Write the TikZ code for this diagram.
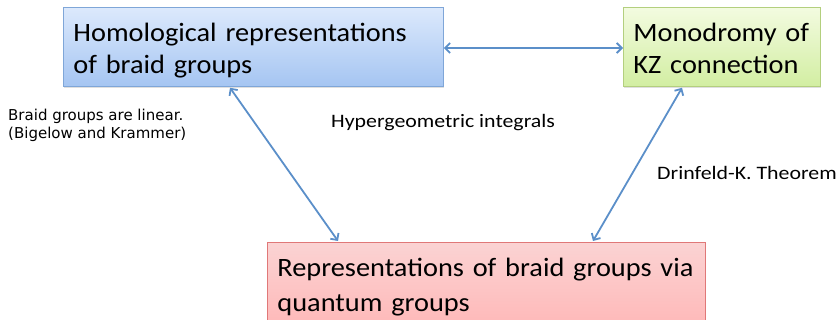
\documentclass[tikz,border=0pt]{standalone}
\usepackage{fontspec}
\setmainfont{Carlito}[FakeStretch=1.07,WordSpace=0.85]
\newfontfamily\labelfont{Carlito}[FakeStretch=1.15]
\newfontfamily\notefont{DejaVu Sans}
\usetikzlibrary{arrows.meta,shadows,calc}
\definecolor{arrowblue}{HTML}{5B8FC9}
\definecolor{bluetop}{HTML}{DCE9FC}
\definecolor{bluebot}{HTML}{A5C5F2}
\definecolor{blueline}{HTML}{7FA6D8}
\definecolor{greentop}{HTML}{F3FBE0}
\definecolor{greenbot}{HTML}{D2EEA2}
\definecolor{greenline}{HTML}{B3CF7E}
\definecolor{redtop}{HTML}{FBD3D3}
\definecolor{redbot}{HTML}{FFB5B5}
\definecolor{redline}{HTML}{E07878}
\tikzset{
  box/.style={rectangle, draw, line width=0.8pt, inner xsep=10pt, inner ysep=0pt,
    align=left, anchor=north west, font=\fontsize{26.5}{32}\selectfont,
    text height=34.5pt, text depth=44.5pt,
    drop shadow={opacity=0.25, shadow xshift=1pt, shadow yshift=-2pt}},
  link/.style={draw=arrowblue, line width=1.8pt, {Straight Barb[length=5pt,width=10pt]}-{Straight Barb[length=5pt,width=10pt]}},
  lbl/.style={anchor=base west, inner sep=0pt, font=\labelfont\fontsize{19}{22}\selectfont}
}
\begin{document}
\begin{tikzpicture}[x=1pt,y=-1pt]
\useasboundingbox (0,0) rectangle (837,320);
\clip (0,0) rectangle (837,320);
\node[box, draw=blueline, top color=bluetop, bottom color=bluebot,
  minimum width=380pt, text width=360pt] (blue) at (63,7)
  {Homological representations\\of braid groups};
\node[box, draw=greenline, top color=greentop, bottom color=greenbot,
  minimum width=197pt, text width=177pt] (green) at (623,7)
  {Monodromy of\\KZ connection};
\node[box, draw=redline, top color=redtop, bottom color=redbot,
  minimum width=438pt, text width=418pt, text depth=60pt,
  font=\fontsize{26.5}{35}\selectfont] (red) at (267,242)
  {Representations of braid groups via\\quantum groups};
\node[anchor=base west, inner sep=0pt, align=left,
  font=\notefont\fontsize{15}{18}\selectfont] (lin) at (8,139)
  {Braid groups are linear.\\(Bigelow and Krammer)};
\node[lbl] (hyp) at (331,128) {Hypergeometric integrals};
\node[lbl] (drin) at (657,180) {Drinfeld-K. Theorem};
\draw[link] (blue.east |- 0,48) -- (green.west |- 0,48);
\draw[link] ($(blue.south west)+(167,1)$) -- ($(red.north west)+(71,-1)$);
\draw[link] ($(green.south west)+(59,1)$) -- ($(red.north west)+(326,-1)$);
\end{tikzpicture}
\end{document}
